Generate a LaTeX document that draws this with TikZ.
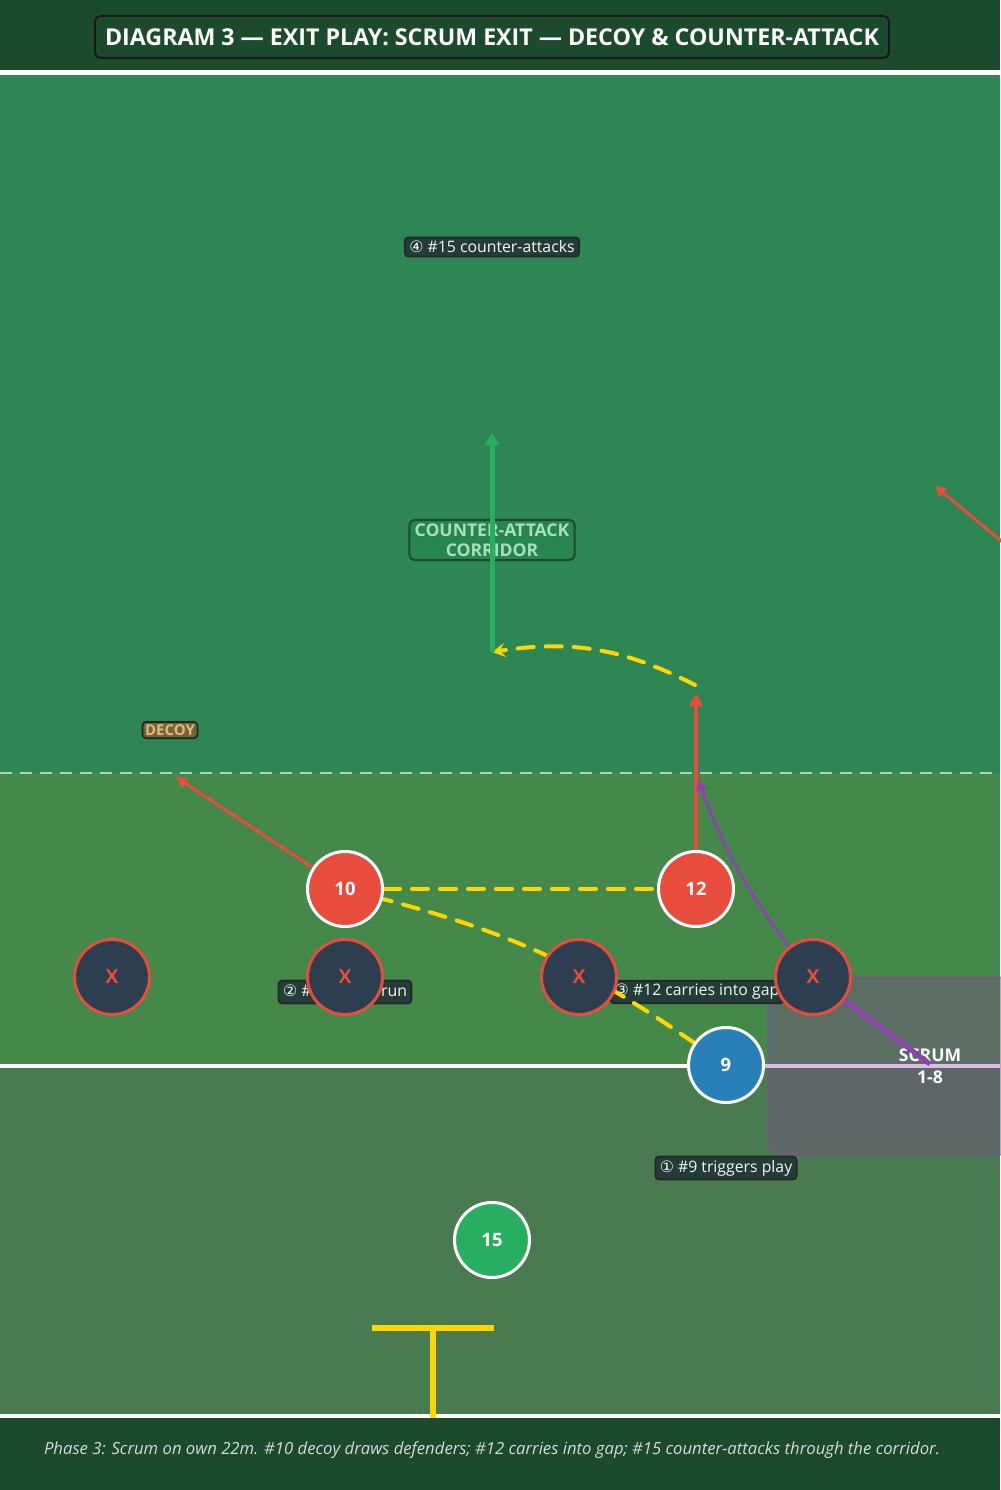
\documentclass[tikz,border=0pt]{standalone}
\usepackage{fontspec}
\setmainfont{Open Sans}
\newfontfamily\circfont{DejaVu Sans}
\usetikzlibrary{arrows.meta, positioning}
\definecolor{bandgreen}{HTML}{1B4A2C}
\definecolor{fieldtop}{HTML}{2E8654}
\definecolor{fieldmid}{HTML}{45894A}
\definecolor{fieldlow}{HTML}{4A7A50}
\definecolor{tackred}{HTML}{E74C3C}
\definecolor{passblue}{HTML}{2980B9}
\definecolor{fullgreen}{HTML}{27AE60}
\definecolor{navy}{HTML}{2C3E50}
\definecolor{scrumpurple}{HTML}{8E44AD}
\definecolor{gold}{HTML}{FFD700}
\definecolor{tagfill}{HTML}{223D37}
\definecolor{corrfill}{HTML}{26864E}
\definecolor{corrtext}{HTML}{A9DFBF}
\definecolor{decoyfill}{HTML}{6B6A35}
\definecolor{decoytext}{HTML}{F0B27A}
\definecolor{scrumgrey}{RGB}{115,85,125}
\definecolor{lavender}{HTML}{D7BDE2}
\definecolor{capgrey}{HTML}{D5DBDB}
\newcommand{\cnum}[1]{{\circfont #1}}
\pgfdeclarelayer{field}
\pgfdeclarelayer{labels}
\pgfdeclarelayer{paths}
\pgfsetlayers{field,labels,paths,main}

\begin{document}
\begin{tikzpicture}[
    x=0.2mm, y=-0.2mm,
    player/.style={circle, draw=white, line width=0.6mm, minimum size=15mm, inner sep=0pt, text=white, font=\fontsize{10.5}{10.5}\selectfont\bfseries},
    defender/.style={circle, draw=tackred, fill=navy, line width=0.6mm, minimum size=15mm, inner sep=0pt, text=tackred, font=\fontsize{11}{11}\selectfont\bfseries},
    tag/.style={draw=black!85, fill=tagfill, rounded corners=2pt, line width=0.35mm, text=white!92!gray, font=\fontsize{9}{10}\selectfont, inner xsep=2.5pt, inner ysep=2pt},
    titlebox/.style={draw=black!90, fill=bandgreen, rounded corners=3pt, line width=0.4mm, text=white, font=\fontsize{13.2}{14}\selectfont\bfseries, minimum width=158.8mm, minimum height=8.4mm},
    pass/.style={gold, line width=0.8mm, line cap=round, dash pattern=on 3.2mm off 2.4mm},
    run/.style={-{Triangle[length=2.6mm, width=2.6mm]}, line width=0.8mm},
]
    \useasboundingbox (0,0) rectangle (1000,1490);

    % Pitch
    \begin{pgfonlayer}{field}
    \fill[bandgreen] (0,0) rectangle (1000,72);
    \fill[fieldtop] (0,72) rectangle (1000,773);
    \fill[fieldmid] (0,773) rectangle (1000,1066);
    \fill[fieldlow] (0,1066) rectangle (1000,1417);
    \fill[bandgreen] (0,1417) rectangle (1000,1490);
    \draw[white, line width=1mm] (0,73) -- (1000,73);
    \draw[white, line width=0.8mm] (0,1066) -- (1000,1066);
    \draw[white, line width=0.8mm] (0,1416) -- (1000,1416);
    \draw[white, opacity=0.6, line width=0.4mm, dash pattern=on 2.4mm off 1.6mm] (0,773) -- (1000,773);
    % Scrum
    \draw[fill=scrumgrey, fill opacity=0.5, draw=scrumpurple, draw opacity=0.4, line width=0.4mm, rounded corners=8] (768,977) rectangle (1012,1155);
    \draw[lavender, line width=0.8mm] (765,1066) -- (1000,1066);
    % Posts
    \draw[gold, line width=1.2mm] (372,1328) -- (494,1328);
    \draw[gold, line width=1.2mm] (433,1328) -- (433,1418);
    \end{pgfonlayer}

    \node[titlebox] (title) at (492,37) {DIAGRAM 3 — EXIT PLAY: SCRUM EXIT — DECOY \& COUNTER-ATTACK};

    % Labels
    \begin{pgfonlayer}{labels}
    \node[tag] (lab4) at (492,247) {\cnum{④} \#15 counter-attacks};
    \node[draw=bandgreen, fill=corrfill, rounded corners=3pt, line width=0.4mm, text=corrtext, align=center, font=\fontsize{10}{11.5}\selectfont\bfseries, inner xsep=3pt, inner ysep=2pt] (corridor) at (492,540) {COUNTER-ATTACK\\CORRIDOR};
    \node[draw=black!85, fill=decoyfill, rounded corners=2pt, line width=0.35mm, text=decoytext, font=\fontsize{8.5}{9}\selectfont\bfseries, inner xsep=1.5pt, inner ysep=1.5pt] (decoy) at (170,730) {DECOY};
    \node[tag] (lab2) at (345,992) {\cnum{②} \#10 decoy run};
    \node[tag] (lab3) at (697,992) {\cnum{③} \#12 carries into gap};
    \node[tag] (lab1) at (726,1168) {\cnum{①} \#9 triggers play};
    \node[text=white, align=center, font=\fontsize{10}{12.5}\selectfont\bfseries] (scrum) at (930,1066) {SCRUM\\1-8};
    \end{pgfonlayer}

    % Players
    \node[player, fill=tackred] (p10) at (345,889) {10};
    \node[player, fill=tackred] (p12) at (696,889) {12};
    \node[player, fill=passblue] (p9) at (726,1065) {9};
    \node[player, fill=fullgreen] (p15) at (492,1240) {15};
    \node[defender] (d1) at (112,977) {X};
    \node[defender] (d2) at (345,977) {X};
    \node[defender] (d3) at (579,977) {X};
    \node[defender] (d4) at (813,977) {X};

    \coordinate (run10) at (176,777);
    \coordinate (run12) at (696,693);
    \coordinate (off12) at (695,685);
    \coordinate (run15) at (492,652);
    \coordinate (end15) at (492,432);
    \coordinate (wingin) at (1012,550);
    \coordinate (wingend) at (935,486);
    \coordinate (chase) at (698,780);
    \coordinate (push) at (930,1064);

    % Lines of running
    \begin{pgfonlayer}{paths}
    \draw[pass] (p10) -- (p12);
    \draw[pass] (p9) to[bend right=10] (p10);
    \draw[pass, -{Stealth[length=2.6mm, width=2.8mm, inset=1mm]}] (off12) to[bend right=18] (run15);
    \draw[run, fullgreen, line width=1mm] (run15) -- (end15);
    \draw[run, tackred] (p12) -- (run12);
    \draw[run, tackred, line width=0.6mm, -{Triangle[length=2.2mm, width=2.2mm]}] (p10) -- (run10);
    \draw[run, tackred, line width=0.6mm, -{Triangle[length=2.2mm, width=2.2mm]}] (wingin) -- (wingend);
    \draw[scrumpurple, line width=1mm] (push) -- (d4);
    \draw[scrumpurple, line width=0.6mm, -{Triangle[length=2.2mm, width=2.2mm]}] (d4) to[bend left=8] (chase);
    \end{pgfonlayer}

    % Caption
    \node[text=capgrey, font=\fontsize{9.5}{11}\selectfont\itshape] (caption) at (492,1450) {Phase 3: Scrum on own 22m. \#10 decoy draws defenders; \#12 carries into gap; \#15 counter-attacks through the corridor.};
\end{tikzpicture}
\end{document}
